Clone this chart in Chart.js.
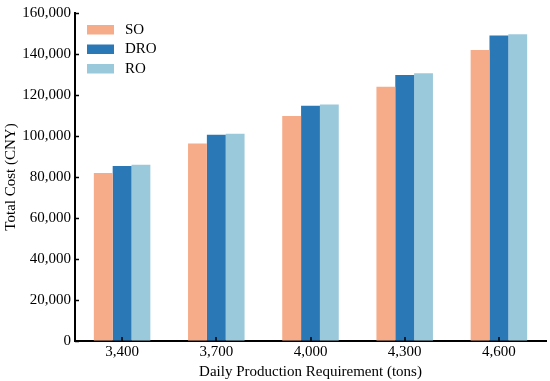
<!DOCTYPE html>
<html lang="en">
  <head>
    <meta charset="UTF-8" />
    <title>Total Cost</title>
    <script src="https://cdn.jsdelivr.net/npm/chart.js"></script>
    <style>
      html, body { margin: 0; padding: 0; background: #fff; }
      #wrap { width: 550px; height: 381px; }
    </style>
  </head>
  <body>
    <div id="wrap"><canvas id="myChart"></canvas></div>
    <script>
      const categories = ["3,400", "3,700", "4,000", "4,300", "4,600"];
      const soValues = [82000, 96300, 109800, 124000, 142000];
      const droValues = [85400, 100600, 114700, 129800, 149000];
      const roValues = [86000, 101100, 115400, 130600, 149600];
      const yTicks = [0, 20000, 40000, 60000, 80000, 100000, 120000, 140000, 160000];

      const FONT = "'Liberation Serif', 'Times New Roman', serif";

      // legend box drawn inside the plot, top left
      const insideLegend = {
        id: "insideLegend",
        afterDraw(chart) {
          const c = chart.ctx;
          const x0 = chart.chartArea.left + 12;
          let y0 = chart.chartArea.top + 12;
          c.save();
          c.font = "15px " + FONT;
          c.textBaseline = "middle";
          chart.data.datasets.forEach((ds) => {
            c.fillStyle = ds.backgroundColor;
            c.fillRect(x0, y0, 27, 9.5);
            c.fillStyle = "#000";
            c.fillText(ds.label, x0 + 38, y0 + 5);
            y0 += 19.5;
          });
          c.restore();
        },
      };

      // short inward tick marks on both axes
      const inwardTicks = {
        id: "inwardTicks",
        afterDraw(chart) {
          const c = chart.ctx;
          const xs = chart.scales.x;
          const ys = chart.scales.y;
          c.save();
          c.strokeStyle = "#000";
          c.lineWidth = 1.5;
          c.beginPath();
          ys.ticks.forEach((t, i) => {
            const py = Math.round(ys.getPixelForTick(i)) + 0.5;
            c.moveTo(ys.right, py);
            c.lineTo(ys.right + 4, py);
          });
          xs.ticks.forEach((t, i) => {
            const px = Math.round(xs.getPixelForTick(i));
            c.moveTo(px, xs.top);
            c.lineTo(px, xs.top - 4);
          });
          c.stroke();
          c.restore();
        },
      };

      const ctx = document.getElementById("myChart");
      new Chart(ctx, {
        type: "bar",
        data: {
          labels: categories,
          datasets: [
            { label: "SO", data: soValues, backgroundColor: "#f6ab89" },
            { label: "DRO", data: droValues, backgroundColor: "#2a78b5" },
            { label: "RO", data: roValues, backgroundColor: "#9bc9dc" },
          ],
        },
        options: {
          responsive: true,
          maintainAspectRatio: false,
          animation: false,
          layout: { padding: { top: 13, right: 4, left: 2, bottom: 0 } },
          datasets: { bar: { barPercentage: 1, categoryPercentage: 0.6 } },
          plugins: {
            legend: { display: false },
            tooltip: { enabled: false },
          },
          scales: {
            x: {
              afterFit: (s) => { s.height = 40; },
              grid: { display: true, drawOnChartArea: false, drawTicks: false },
              border: { color: "#000", width: 2 },
              ticks: { color: "#000", font: { family: FONT, size: 15 }, padding: 2 },
              title: {
                display: true,
                text: "Daily Production Requirement (tons)",
                color: "#000",
                font: { family: FONT, size: 15 },
                padding: { top: 0, bottom: 0 },
              },
            },
            y: {
              min: 0,
              max: 160000,
              afterFit: (s) => { s.width = 73; },
              afterBuildTicks: (s) => { s.ticks = yTicks.map((v) => ({ value: v })); },
              grid: { display: true, drawOnChartArea: false, drawTicks: false },
              border: { color: "#000", width: 2 },
              ticks: {
                color: "#000",
                font: { family: FONT, size: 15 },
                padding: 4,
                callback: (v) => v.toLocaleString("en-US"),
              },
              title: {
                display: true,
                text: "Total Cost (CNY)",
                color: "#000",
                font: { family: FONT, size: 15 },
                padding: { top: 0, bottom: 1 },
              },
            },
          },
        },
        plugins: [insideLegend, inwardTicks],
      });
    </script>
  </body>
</html>
